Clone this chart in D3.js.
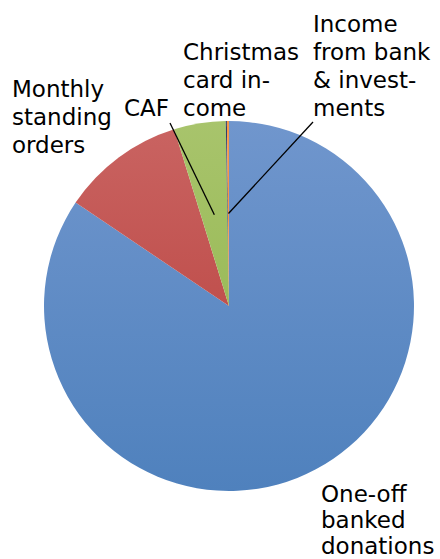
<!DOCTYPE html>
<html><head><meta charset="utf-8">
<script src="https://cdn.jsdelivr.net/npm/d3@7"></script>
<style>html,body{margin:0;padding:0;background:#fff}svg{display:block}</style>
</head><body>
<script>
const categories = ["One-off banked donations","Monthly standing orders","CAF","Christmas card income","Income from bank & investments"];
const values = [84.44, 10.78, 4.5, 0.1, 0.18];
const colors = [["#7096cd","#4f81bd"],["#c96361","#c0504d"],["#a8c46c","#9bbb59"],["#2f3f6a","#2f3f6a"],["#f79646","#f79646"]];
const labelLines = [["One-off","banked","donations"],["Monthly","standing","orders"],["CAF"],["Christmas","card in-","come"],["Income","from bank","& invest-","ments"]];

const W=440,H=559,cx=229,cy=306,R=185;
const svg=d3.select("body").append("svg").attr("width",W).attr("height",H);
const defs=svg.append("defs");
colors.forEach((c,i)=>{
  const g=defs.append("linearGradient").attr("id","g"+i).attr("x1",0).attr("y1",0).attr("x2",0).attr("y2",1);
  g.append("stop").attr("offset","0%").attr("stop-color",c[0]);
  g.append("stop").attr("offset","100%").attr("stop-color",c[1]);
});
const pie=d3.pie().sort(null).value(d=>d);
const arcs=pie(values);
const arc=d3.arc().innerRadius(0).outerRadius(R);
const gp=svg.append("g").attr("transform",`translate(${cx},${cy})`);
gp.selectAll("path").data(arcs).join("path").attr("d",arc).attr("fill",(d,i)=>`url(#g${i})`);

// label layout (left x, first baseline, line height)
const labelPos=[[321,502,26],[12,97,28],[124,116,28],[183,60,28],[313,32,28]];
const leaders=[null,null,[170,123],null,[313,122]];
arcs.forEach((a,i)=>{
  if(leaders[i]){
    const c=arc.centroid(a);
    svg.append("line").attr("x1",leaders[i][0]).attr("y1",leaders[i][1])
      .attr("x2",cx+c[0]).attr("y2",cy+c[1]).attr("stroke","#000").attr("stroke-width",1.3);
  }
  const t=svg.append("text").attr("font-family","DejaVu Sans").attr("font-size",23).attr("fill","#000");
  labelLines[i].forEach((ln,k)=>{
    t.append("tspan").attr("x",labelPos[i][0]).attr("y",labelPos[i][1]+k*labelPos[i][2]).text(ln);
  });
});
</script>
</body></html>
